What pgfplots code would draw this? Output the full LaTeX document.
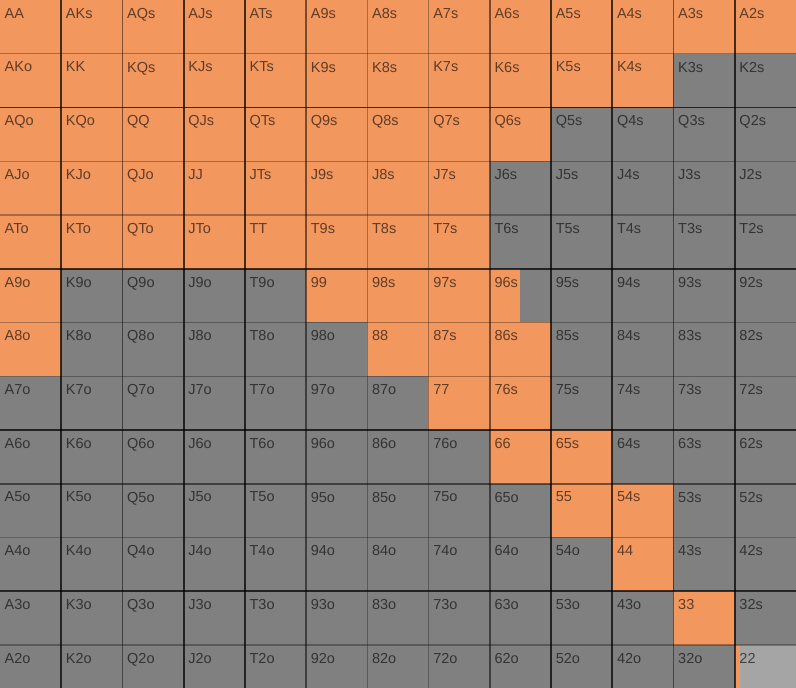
\documentclass[border=0pt]{standalone}
\usepackage{pgfplots}
\pgfplotsset{compat=1.18}
\usepackage{pgfplotstable}
\usepackage{fontspec}
\setmainfont{Liberation Sans}
\definecolor{rangeor}{RGB}{242,151,94}
\definecolor{foldgray}{RGB}{128,128,128}
\definecolor{lightg}{RGB}{165,165,165}
\pgfplotstableread{
j i c label
0 0 1 AA
1 0 1 AKs
2 0 1 AQs
3 0 1 AJs
4 0 1 ATs
5 0 1 A9s
6 0 1 A8s
7 0 1 A7s
8 0 1 A6s
9 0 1 A5s
10 0 1 A4s
11 0 1 A3s
12 0 1 A2s
0 1 1 AKo
1 1 1 KK
2 1 1 KQs
3 1 1 KJs
4 1 1 KTs
5 1 1 K9s
6 1 1 K8s
7 1 1 K7s
8 1 1 K6s
9 1 1 K5s
10 1 1 K4s
11 1 0 K3s
12 1 0 K2s
0 2 1 AQo
1 2 1 KQo
2 2 1 QQ
3 2 1 QJs
4 2 1 QTs
5 2 1 Q9s
6 2 1 Q8s
7 2 1 Q7s
8 2 1 Q6s
9 2 0 Q5s
10 2 0 Q4s
11 2 0 Q3s
12 2 0 Q2s
0 3 1 AJo
1 3 1 KJo
2 3 1 QJo
3 3 1 JJ
4 3 1 JTs
5 3 1 J9s
6 3 1 J8s
7 3 1 J7s
8 3 0 J6s
9 3 0 J5s
10 3 0 J4s
11 3 0 J3s
12 3 0 J2s
0 4 1 ATo
1 4 1 KTo
2 4 1 QTo
3 4 1 JTo
4 4 1 TT
5 4 1 T9s
6 4 1 T8s
7 4 1 T7s
8 4 0 T6s
9 4 0 T5s
10 4 0 T4s
11 4 0 T3s
12 4 0 T2s
0 5 1 A9o
1 5 0 K9o
2 5 0 Q9o
3 5 0 J9o
4 5 0 T9o
5 5 1 99
6 5 1 98s
7 5 1 97s
8 5 0 96s
9 5 0 95s
10 5 0 94s
11 5 0 93s
12 5 0 92s
0 6 1 A8o
1 6 0 K8o
2 6 0 Q8o
3 6 0 J8o
4 6 0 T8o
5 6 0 98o
6 6 1 88
7 6 1 87s
8 6 1 86s
9 6 0 85s
10 6 0 84s
11 6 0 83s
12 6 0 82s
0 7 0 A7o
1 7 0 K7o
2 7 0 Q7o
3 7 0 J7o
4 7 0 T7o
5 7 0 97o
6 7 0 87o
7 7 1 77
8 7 1 76s
9 7 0 75s
10 7 0 74s
11 7 0 73s
12 7 0 72s
0 8 0 A6o
1 8 0 K6o
2 8 0 Q6o
3 8 0 J6o
4 8 0 T6o
5 8 0 96o
6 8 0 86o
7 8 0 76o
8 8 1 66
9 8 1 65s
10 8 0 64s
11 8 0 63s
12 8 0 62s
0 9 0 A5o
1 9 0 K5o
2 9 0 Q5o
3 9 0 J5o
4 9 0 T5o
5 9 0 95o
6 9 0 85o
7 9 0 75o
8 9 0 65o
9 9 1 55
10 9 1 54s
11 9 0 53s
12 9 0 52s
0 10 0 A4o
1 10 0 K4o
2 10 0 Q4o
3 10 0 J4o
4 10 0 T4o
5 10 0 94o
6 10 0 84o
7 10 0 74o
8 10 0 64o
9 10 0 54o
10 10 1 44
11 10 0 43s
12 10 0 42s
0 11 0 A3o
1 11 0 K3o
2 11 0 Q3o
3 11 0 J3o
4 11 0 T3o
5 11 0 93o
6 11 0 83o
7 11 0 73o
8 11 0 63o
9 11 0 53o
10 11 0 43o
11 11 1 33
12 11 0 32s
0 12 0 A2o
1 12 0 K2o
2 12 0 Q2o
3 12 0 J2o
4 12 0 T2o
5 12 0 92o
6 12 0 82o
7 12 0 72o
8 12 0 62o
9 12 0 52o
10 12 0 42o
11 12 0 32o
12 12 2 22
}\hands
\begin{document}
\begin{tikzpicture}
\begin{axis}[
  scale only axis,
  width=796pt, height=688pt,
  xmin=0, xmax=13,
  ymin=0, ymax=12.8,
  y dir=reverse,
  axis line style={draw=none},
  tick style={draw=none},
  xtick={1,3,4,9,10,12},
  extra x ticks={2,5,8,11},
  minor xtick={6,7},
  ytick={2,5,8,11},
  extra y ticks={9},
  minor ytick={1,3,4,6,7,10,12},
  xticklabels={}, yticklabels={},
  extra x tick labels={}, extra y tick labels={},
  grid=both,
  major grid style={black, opacity=0.72, line width=1.7pt},
  minor grid style={black, opacity=0.3, line width=1.3pt},
  extra x tick style={grid=major, major grid style={black, opacity=0.5, line width=1.5pt}},
  extra y tick style={grid=major, major grid style={black, opacity=0.5, line width=1.5pt}},
  axis on top=true,
  colormap={poker}{rgb255=(128,128,128) rgb255=(242,151,94) rgb255=(165,165,165)},
  point meta min=0, point meta max=2,
]
\addplot[matrix plot*, mesh/cols=13, point meta=explicit]
  table[x expr=\thisrow{j}+0.5, y expr=\thisrow{i}+0.5, meta=c] {\hands};
% partial cells
\addplot[fill=rangeor, draw=none] coordinates {(8,5) (8.5,5) (8.5,6) (8,6)} --cycle;
\addplot[fill=rangeor, draw=none] coordinates {(12,12) (12.08,12) (12.08,13) (12,13)} --cycle;
% labels
\addplot[only marks, mark=none, nodes near coords, point meta=explicit symbolic,
  every node near coord/.append style={anchor=north west, inner sep=0pt, xshift=4.5pt, yshift=-8pt,
    font=\fontsize{14.5}{17}\selectfont, text=black, text opacity=0.6}]
  table[x=j, y=i, meta=label] {\hands};
\end{axis}
\pgfresetboundingbox
\useasboundingbox (current axis.south west) rectangle (current axis.north east);
\end{tikzpicture}
\end{document}
